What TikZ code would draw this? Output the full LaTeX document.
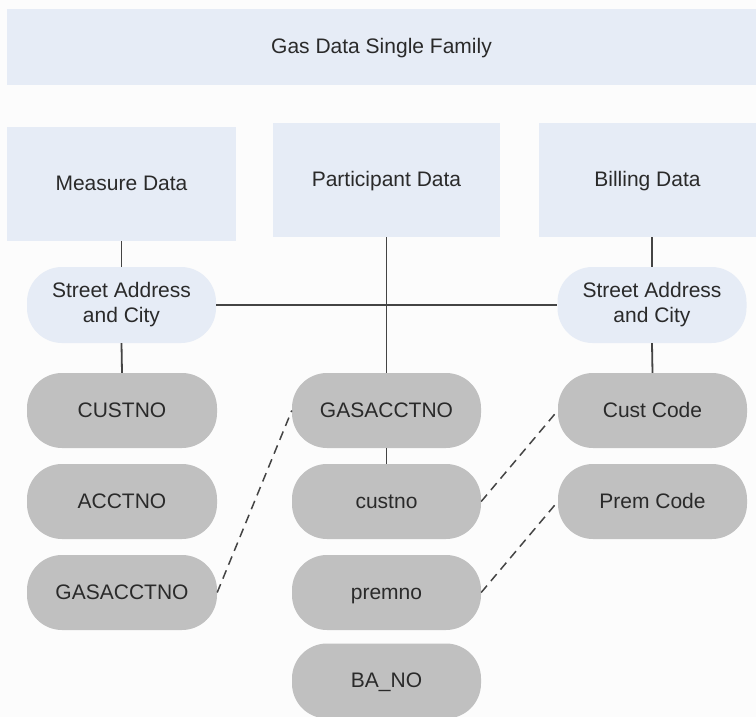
\documentclass[tikz,border=0pt]{standalone}
\usepackage{fontspec}
\setmainfont{Liberation Sans}
\definecolor{panel}{HTML}{E6ECF6}
\definecolor{field}{HTML}{C0C0C0}
\definecolor{ink}{HTML}{2A2A2A}
\definecolor{wire}{HTML}{444444}
\definecolor{paper}{HTML}{FCFCFC}
\begin{document}
\begin{tikzpicture}[x=1pt,y=-1pt,
  every node/.style={font=\fontsize{21}{25}\selectfont, text=ink, align=center, inner sep=0pt},
  oneline/.style={text height=16pt, text depth=2.5pt},
  group/.style={rectangle, fill=panel, oneline},
  addr/.style={rectangle, fill=panel, rounded corners=35pt, minimum width=189pt, minimum height=76pt},
  fld/.style={rectangle, fill=field, rounded corners=35pt, minimum width=190pt, minimum height=75pt, oneline},
  link/.style={draw=wire, line width=1.8pt},
  match/.style={draw=wire, line width=1.5pt, dash pattern=on 9pt off 6pt}]
\fill[paper] (0,0) rectangle (756,717);
\useasboundingbox (0,0) rectangle (756,717);

% header and the three data groups
\node[group, minimum width=749pt, minimum height=76pt] (fam) at (381.5,47) {Gas Data Single Family};
\node[group, minimum width=229pt, minimum height=114pt] (meas) at (121.5,184) {Measure Data};
\node[group, minimum width=227pt, minimum height=114pt] (part) at (386.5,180) {Participant Data};
\node[group, minimum width=217pt, minimum height=114pt] (bill) at (647.5,180) {Billing Data};

% address keys
\node[addr] (addrL) at (121.5,305) {Street Address\\and City};
\node[addr] (addrR) at (652,305) {Street Address\\and City};

% measure fields
\node[fld] (mCust) at (122,410.5) {CUSTNO};
\node[fld] (mAcct) at (122,501.5) {ACCTNO};
\node[fld] (mGas)  at (122,592.5) {GASACCTNO};

% participant fields
\node[fld, minimum width=189pt] (pGas)  at (386.5,410.5) {GASACCTNO};
\node[fld, minimum width=189pt] (pCust) at (386.5,501.5) {custno};
\node[fld, minimum width=189pt] (pPrem) at (386.5,592.5) {premno};
\node[fld, minimum width=189pt] (pBa)   at (386.5,681) {BA\_NO};

% billing fields
\node[fld, minimum width=189pt] (bCust) at (652.5,410.5) {Cust Code};
\node[fld, minimum width=189pt] (bPrem) at (652.5,501.5) {Prem Code};

% solid connectors
\draw[link] (addrL.east) -- (addrR.west);
\draw[link] (meas.south -| addrL) -- (addrL.north);
\draw[link] (addrL.south) -- (mCust.north);
\draw[link] (part.south) -- (pGas.north);
\draw[link] (pGas.south) -- (pCust.north);
\draw[link] (bill.south -| addrR) -- (addrR.north);
\draw[link] (addrR.south) -- (bCust.north);

% dashed key matches
\draw[match] (mGas.east) -- (pGas.west);
\draw[match] (pCust.east) -- (bCust.west);
\draw[match] (pPrem.east) -- (bPrem.west);
\end{tikzpicture}
\end{document}
